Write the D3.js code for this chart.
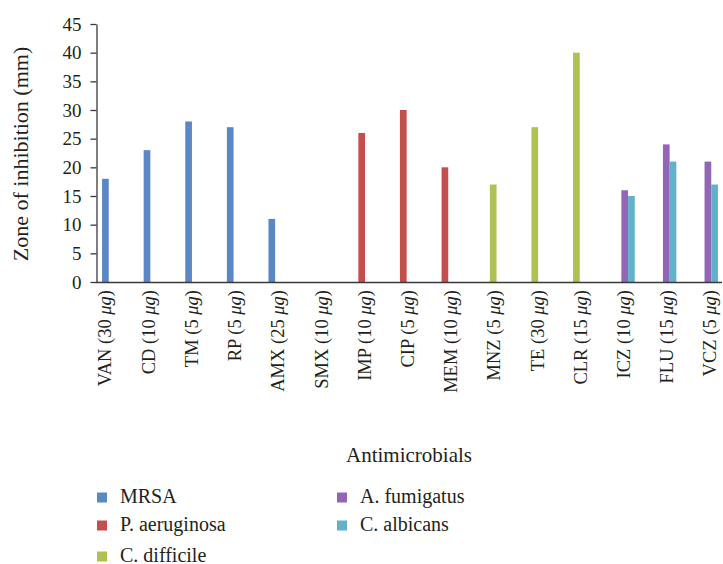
<!DOCTYPE html>
<html>
<head>
<meta charset="utf-8">
<script src="https://cdn.jsdelivr.net/npm/d3@7"></script>
<style>
  html, body { margin: 0; padding: 0; background: #fff; }
  svg { display: block; font-family: "Liberation Serif", "Times New Roman", serif; }
</style>
</head>
<body>
<svg id="chart" width="723" height="564"></svg>
<script>
// ---- data ----
const categories = ["VAN", "CD", "TM", "RP", "AMX", "SMX", "IMP", "CIP", "MEM", "MNZ", "TE", "CLR", "ICZ", "FLU", "VCZ"];
const doses = ["30", "10", "5", "5", "25", "10", "10", "5", "10", "5", "30", "15", "10", "15", "5"];
const seriesNames = ["MRSA", "P. aeruginosa", "C. difficile", "A. fumigatus", "C. albicans"];
const mrsa        = [18, 23, 28, 27, 11, 0, null, null, null, null, null, null, null, null, null];
const pAeruginosa = [null, null, null, null, null, null, 26, 30, 20, null, null, null, null, null, null];
const cDifficile  = [null, null, null, null, null, null, null, null, null, 17, 27, 40, null, null, null];
const aFumigatus  = [null, null, null, null, null, null, null, null, null, null, null, null, 16, 24, 21];
const cAlbicans   = [null, null, null, null, null, null, null, null, null, null, null, null, 15, 21, 17];
const seriesValues = [mrsa, pAeruginosa, cDifficile, aFumigatus, cAlbicans];
const colors = ["#5B87C4", "#C44E4C", "#AEC152", "#9265B7", "#62B1CA"];
const yTicks = [0, 5, 10, 15, 20, 25, 30, 35, 40, 45];

// ---- layout ----
const svg = d3.select("#chart");
const textColor = "#231f20";
const axisColor = "#3a3a3a";
const serif = "Liberation Serif, Times New Roman, serif";

const y = d3.scaleLinear().domain([0, 45]).range([282, 24]);
const x0 = d3.scaleBand().domain(categories).range([98, 722]).paddingInner(0).paddingOuter(0);
const bw = x0.bandwidth();
const x1 = d3.scaleBand().domain(seriesNames).range([bw * 0.0975, bw * (1 - 0.0975)]).padding(0);
const xLabel = d3.scalePoint().domain(categories).range([105, 710]);

// bars
const barData = [];
seriesNames.forEach((s, si) => {
  categories.forEach((c, ci) => {
    const v = seriesValues[si][ci];
    if (v !== null && v > 0) barData.push({ s, c, v, color: colors[si] });
  });
});
svg.append("g").selectAll("rect").data(barData).join("rect")
  .attr("x", d => x0(d.c) + x1(d.s))
  .attr("width", x1.bandwidth())
  .attr("y", d => y(d.v))
  .attr("height", d => y(0) - y(d.v))
  .attr("fill", d => d.color);

// y axis
const yAxis = svg.append("g")
  .attr("transform", "translate(96.5,0)")
  .call(d3.axisLeft(y).tickValues(yTicks).tickSize(6).tickPadding(9).tickSizeOuter(0))
  .attr("font-family", serif)
  .attr("font-size", 19);
yAxis.select(".domain").attr("stroke", axisColor).attr("stroke-width", 1.3);
yAxis.selectAll(".tick line").attr("stroke", axisColor).attr("stroke-width", 1.3);
yAxis.selectAll(".tick text").attr("fill", textColor);

// x axis line
svg.append("line")
  .attr("x1", 96).attr("x2", 722)
  .attr("y1", y(0) + 0.5).attr("y2", y(0) + 0.5)
  .attr("stroke", axisColor).attr("stroke-width", 1.3);

// x labels (rotated)
const xl = svg.append("g").selectAll("text").data(categories).join("text")
  .attr("transform", d => `translate(${xLabel(d)},290) rotate(-90)`)
  .attr("dy", "0.35em")
  .attr("text-anchor", "end")
  .attr("fill", textColor)
  .style("font-size", "18.5px");
xl.each(function(d, i) {
  const t = d3.select(this);
  t.append("tspan").text(`${d} (${doses[i]} `);
  t.append("tspan").style("font-style", "italic").text("μg");
  t.append("tspan").text(")");
});

// y title
svg.append("text")
  .attr("transform", "translate(28,154) rotate(-90)")
  .attr("text-anchor", "middle")
  .attr("fill", textColor)
  .style("font-size", "22px")
  .text("Zone of inhibition (mm)");

// x title
svg.append("text")
  .attr("x", 409).attr("y", 462)
  .attr("text-anchor", "middle")
  .attr("fill", textColor)
  .style("font-size", "21px")
  .text("Antimicrobials");

// legend
const legendPos = [
  { x: 97, y: 502.5 }, { x: 97, y: 530.5 }, { x: 97, y: 561.5 },
  { x: 337, y: 502.5 }, { x: 337, y: 530.5 }
];
const lg = svg.append("g").selectAll("g").data(seriesNames).join("g")
  .attr("transform", (d, i) => `translate(${legendPos[i].x},${legendPos[i].y})`);
lg.append("rect").attr("x", 0).attr("y", -10).attr("width", 10).attr("height", 10)
  .attr("fill", (d, i) => colors[i]);
lg.append("text").attr("x", 23).attr("y", 0)
  .attr("fill", textColor)
  .style("font-size", "20px")
  .text(d => d);
</script>
</body>
</html>
